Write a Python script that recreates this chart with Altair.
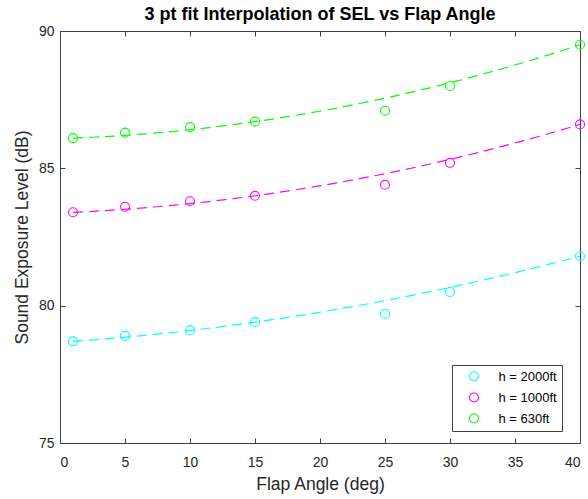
import altair as alt
import pandas as pd

# Measured sound exposure level at each flap setting, one list per altitude
flap_angle = [1, 5, 10, 15, 25, 30, 40]
sel_h2000 = [78.7, 78.9, 79.1, 79.4, 79.7, 80.5, 81.8]
sel_h1000 = [83.4, 83.6, 83.8, 84.0, 84.4, 85.2, 86.6]
sel_h630 = [86.1, 86.3, 86.5, 86.7, 87.1, 88.0, 89.5]

series_names = ["h = 2000ft", "h = 1000ft", "h = 630ft"]
series_colors = ["#00FFFF", "#FF00FF", "#00FF00"]

# The quadratic is fitted through these three flap settings only
fit_angles = [1, 15, 40]

x_ticks = [0, 5, 10, 15, 20, 25, 30, 35, 40]
y_ticks = [75, 80, 85, 90]

rows = []
for name, values in zip(series_names, [sel_h2000, sel_h1000, sel_h630]):
    for a, v in zip(flap_angle, values):
        rows.append({"angle": a, "sel": v, "series": name})
df = pd.DataFrame(rows)

W, H = 520, 412
FONT = "Liberation Sans"
TEXT = "#262626"
FRAME = "#404040"

x_enc = alt.X(
    "angle:Q",
    scale=alt.Scale(domain=[0, 40], nice=False, zero=False),
    axis=alt.Axis(
        values=x_ticks,
        title="Flap Angle (deg)",
        ticks=False,
        tickSize=0,
        domain=False,
        labelPadding=12,
        labelFontSize=14,
        labelColor=TEXT,
        labelFont=FONT,
        titleFontSize=17.5,
        titleFont=FONT,
        titleFontWeight="normal",
        titleColor=TEXT,
        titlePadding=6,
        grid=True,
        gridColor=FRAME,
        gridOpacity=1,
        gridWidth=1,
        gridDash=[5, H - 10, 5, 2000],
    ),
)
y_enc = alt.Y(
    "sel:Q",
    scale=alt.Scale(domain=[75, 90], nice=False, zero=False),
    axis=alt.Axis(
        values=y_ticks,
        title="Sound Exposure Level (dB)",
        ticks=False,
        tickSize=0,
        domain=False,
        labelPadding=6,
        labelFontSize=14,
        labelColor=TEXT,
        labelFont=FONT,
        titleFontSize=17.5,
        titleFont=FONT,
        titleFontWeight="normal",
        titleColor=TEXT,
        titlePadding=7,
        grid=True,
        gridColor=FRAME,
        gridOpacity=1,
        gridWidth=1,
        gridDash=[5, W - 10, 5, 2000],
    ),
)
color_scale = alt.Scale(domain=series_names, range=series_colors)

base = alt.Chart(df)

fit = (
    base.transform_filter(alt.FieldOneOfPredicate(field="angle", oneOf=fit_angles))
    .transform_regression("angle", "sel", method="poly", order=2, groupby=["series"])
    .mark_line(strokeDash=[10, 6], strokeWidth=1.2, clip=False)
    .encode(
        x=x_enc,
        y=y_enc,
        color=alt.Color("series:N", scale=color_scale, legend=None),
        detail="series:N",
    )
)

points = base.mark_point(
    shape="circle", filled=False, size=80, strokeWidth=1.1, opacity=1
).encode(
    x=x_enc,
    y=y_enc,
    color=alt.Color(
        "series:N",
        scale=color_scale,
        legend=alt.Legend(
            title=None,
            orient="none",
            legendX=392,
            legendY=334,
            direction="vertical",
            padding=5,
            rowPadding=6,
            symbolType="circle",
            symbolSize=81,
            symbolStrokeWidth=1.1,
            symbolFillColor="transparent",
            symbolOffset=10.5,
            labelOffset=18,
            labelFontSize=13,
            labelFont=FONT,
            labelColor="black",
            strokeColor=FRAME,
            fillColor="white",
            cornerRadius=0,
        ),
    ),
)

chart = (
    alt.layer(fit, points)
    .resolve_legend(color="independent")
    .properties(
        width=W,
        height=H,
        title=alt.TitleParams(
            "3 pt fit Interpolation of SEL vs Flap Angle",
            font=FONT,
            fontSize=18,
            fontWeight="bold",
            color="black",
            anchor="middle",
            frame="group",
            offset=0,
        ),
        autosize=alt.AutoSizeParams(type="none"),
        padding={"left": 60, "top": 31, "right": 8, "bottom": 56},
        background="white",
    )
    .configure_view(stroke=FRAME, strokeWidth=1)
)

chart.save("out.html", embed_options={"renderer": "svg", "actions": False})
